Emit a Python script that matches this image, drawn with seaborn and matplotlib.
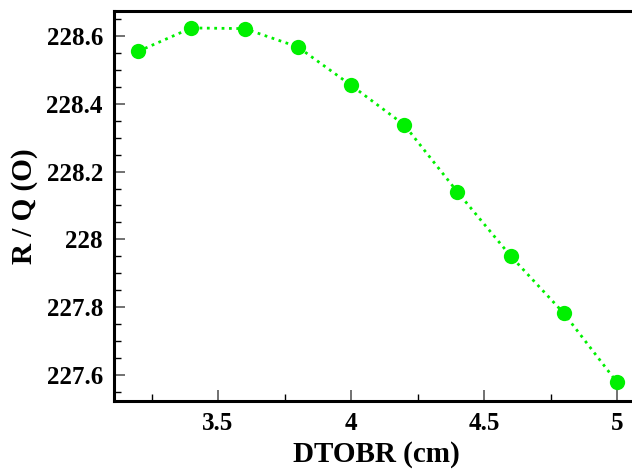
import matplotlib
matplotlib.use("Agg")
import matplotlib.pyplot as plt
import seaborn as sns
import pandas as pd
from matplotlib.ticker import MultipleLocator

dtobr = [3.2, 3.4, 3.6, 3.8, 4.0, 4.2, 4.4, 4.6, 4.8, 5.0]
rq = [228.555, 228.624, 228.622, 228.568, 228.455, 228.338, 228.140, 227.951, 227.782, 227.578]
x_ticks = [3.5, 4.0, 4.5, 5.0]
x_tick_labels = ["3.5", "4", "4.5", "5"]
y_ticks = [227.6, 227.8, 228.0, 228.2, 228.4, 228.6]
y_tick_labels = ["227.6", "227.8", "228", "228.2", "228.4", "228.6"]

df = pd.DataFrame({"DTOBR": dtobr, "RQ": rq})

sns.set_style("white")
plt.rcParams["font.family"] = ["Liberation Serif", "DejaVu Serif"]
plt.rcParams["font.weight"] = "bold"
plt.rcParams["text.color"] = "black"
plt.rcParams["axes.labelcolor"] = "black"
plt.rcParams["xtick.color"] = "black"
plt.rcParams["ytick.color"] = "black"

fig = plt.figure(figsize=(6.32, 4.75), dpi=100)
ax = fig.add_axes([114/632, 74/475, 1 - 114/632 + 0.01, 390/475])

sns.lineplot(data=df, x="DTOBR", y="RQ", ax=ax, color="#00f000", linestyle=":",
             linewidth=2.0, marker="o", markersize=11, markeredgewidth=0,
             markerfacecolor="#00f000")

ax.set_xlim(3.109, 5.08)
ax.set_ylim(227.523, 228.674)
ax.set_xticks(x_ticks)
ax.set_xticklabels(x_tick_labels)
ax.set_yticks(y_ticks)
ax.set_yticklabels(y_tick_labels)
ax.xaxis.set_minor_locator(MultipleLocator(0.25))
ax.yaxis.set_minor_locator(MultipleLocator(0.05))

ax.tick_params(axis="both", which="both", bottom=True, left=True, top=False, right=False)
ax.tick_params(axis="both", which="major", direction="in", length=8, width=1.3,
               color="#666666", labelcolor="black", labelsize=18, pad=8)
ax.tick_params(axis="both", which="minor", direction="in", length=5, width=1.0,
               color="black")
for lab in ax.get_xticklabels() + ax.get_yticklabels():
    lab.set_fontweight("bold")

for side in ["left", "bottom", "top"]:
    ax.spines[side].set_visible(True)
    ax.spines[side].set_linewidth(2.2)
    ax.spines[side].set_color("black")
ax.spines["right"].set_visible(False)

ax.set_xlabel("DTOBR (cm)", fontsize=21, fontweight="bold", labelpad=4, color="black")
ax.set_ylabel("R / Q (O)", fontsize=21, fontweight="bold", labelpad=6, color="black")

fig.savefig("out.png", dpi=100)
